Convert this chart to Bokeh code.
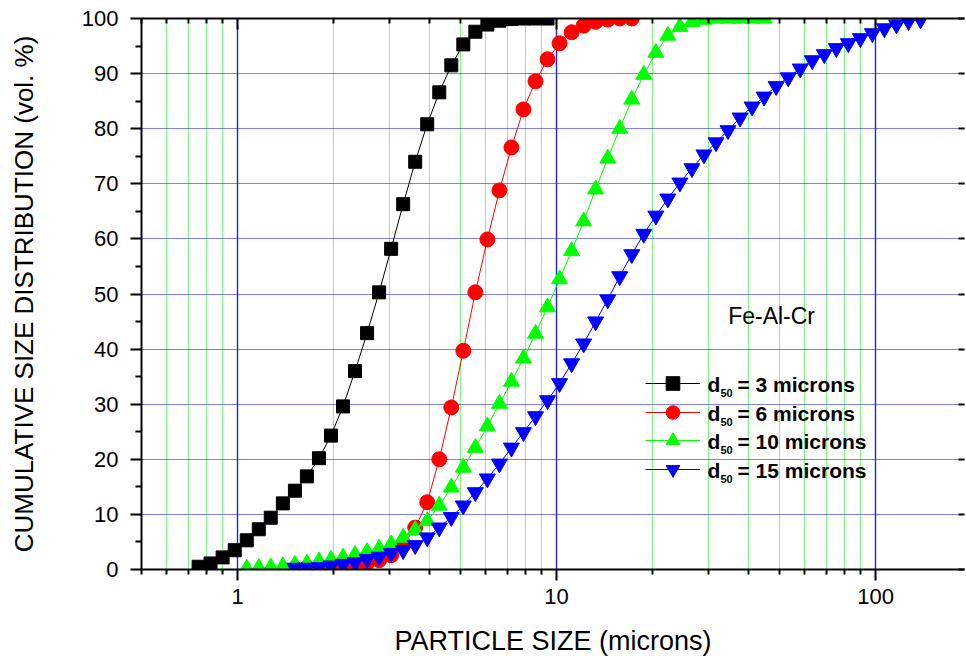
from bokeh.plotting import figure
from bokeh.models import (FixedTicker, LinearAxis, LogAxis, Legend, LegendItem,
                          Label, PrintfTickFormatter, Range1d)
from bokeh.embed import file_html
from bokeh.resources import INLINE

# ---------------- data ----------------
size_d3 = [0.755, 0.823, 0.898, 0.980, 1.069, 1.166, 1.271, 1.387, 1.513, 1.650,
           1.800, 1.963, 2.141, 2.335, 2.547, 2.778, 3.030, 3.305, 3.605, 3.932,
           4.289, 4.678, 5.102, 5.565, 6.070, 6.621, 7.221, 7.876, 8.591, 9.370]
cum_d3 = [0.5, 1.1, 2.2, 3.5, 5.3, 7.3, 9.4, 12.0, 14.3, 16.9,
          20.2, 24.3, 29.6, 36.0, 42.9, 50.3, 58.2, 66.3, 74.0, 80.8,
          86.6, 91.5, 95.3, 97.6, 98.9, 99.6, 99.9, 100, 100, 100]

size_d6 = [1.513, 1.650, 1.800, 1.963, 2.141, 2.335, 2.547, 2.778, 3.030, 3.305,
           3.605, 3.932, 4.289, 4.678, 5.102, 5.565, 6.070, 6.621, 7.221, 7.876,
           8.591, 9.370, 10.22, 11.15, 12.16, 13.26, 14.47, 15.78, 17.21]
cum_d6 = [0.2, 0.3, 0.4, 0.5, 0.7, 0.9, 1.2, 1.7, 2.6, 4.4,
          7.6, 12.2, 20.0, 29.4, 39.7, 50.3, 59.9, 68.8, 76.6, 83.5,
          88.6, 92.6, 95.5, 97.5, 98.7, 99.4, 99.8, 100, 100]

size_d10 = [1.069, 1.166, 1.271, 1.387, 1.513, 1.650, 1.800, 1.963, 2.141, 2.335,
            2.547, 2.778, 3.030, 3.305, 3.605, 3.932, 4.289, 4.678, 5.102, 5.565,
            6.070, 6.621, 7.221, 7.876, 8.591, 9.370, 10.22, 11.15, 12.16, 13.26,
            14.47, 15.78, 17.21, 18.77, 20.48, 22.33, 24.36, 26.57, 28.98, 31.61,
            34.48, 37.61, 41.02, 44.74]
cum_d10 = [0.2, 0.3, 0.4, 0.6, 0.9, 1.1, 1.5, 1.8, 2.2, 2.7,
           3.2, 3.8, 4.6, 5.8, 7.2, 8.8, 11.6, 14.9, 18.5, 22.1,
           26.0, 30.1, 34.1, 38.3, 42.8, 47.6, 52.7, 57.8, 63.2, 69.0,
           74.6, 80.0, 85.3, 89.8, 93.8, 96.9, 98.5, 99.4, 99.8, 100,
           100, 100, 100, 100]

size_d15 = [1.513, 1.650, 1.800, 1.963, 2.141, 2.335, 2.547, 2.778, 3.030, 3.305,
            3.605, 3.932, 4.289, 4.678, 5.102, 5.565, 6.070, 6.621, 7.221, 7.876,
            8.591, 9.370, 10.22, 11.15, 12.16, 13.26, 14.47, 15.78, 17.21, 18.77,
            20.48, 22.33, 24.36, 26.57, 28.98, 31.61, 34.48, 37.61, 41.02, 44.74,
            48.80, 53.23, 58.06, 63.32, 69.07, 75.34, 82.17, 89.63, 97.76, 106.6,
            116.3, 126.9, 138.4]
cum_d15 = [0.3, 0.3, 0.4, 0.7, 1.0, 1.3, 1.9, 2.3, 3.0, 3.5,
           4.4, 5.8, 7.6, 9.5, 11.6, 14.0, 16.5, 19.2, 22.1, 24.9,
           27.8, 30.7, 33.8, 37.4, 41.0, 45.0, 49.0, 53.2, 57.2, 60.9,
           64.2, 67.3, 70.2, 72.8, 75.3, 77.5, 79.7, 82.0, 84.0, 85.8,
           87.7, 89.3, 90.9, 92.4, 93.5, 94.6, 95.5, 96.4, 97.3, 98.2,
           98.9, 99.5, 99.8]

# legend texts: "d" + subscript "50" + rest
legend_main = ["d", "d", "d", "d"]
legend_sub = ["50", "50", "50", "50"]
legend_rest = ["= 3 microns", "= 6 microns", "= 10 microns", "= 15 microns"]

x_major = [1, 10, 100]
x_minor = [0.5, 0.6, 0.7, 0.8, 0.9, 2, 3, 4, 5, 6, 7, 8, 9,
           20, 30, 40, 50, 60, 70, 80, 90, 200]
y_major = [0, 10, 20, 30, 40, 50, 60, 70, 80, 90, 100]
y_minor = [5, 15, 25, 35, 45, 55, 65, 75, 85, 95]

FONT = "Liberation Sans"

# ---------------- figure ----------------
p = figure(width=966, height=659, x_axis_type="log",
           x_range=Range1d(0.5, 190), y_range=Range1d(0, 100),
           output_backend="svg", toolbar_location=None,
           min_border_left=141, min_border_top=18, min_border_bottom=90,
           min_border_right=2)
p.outline_line_color = None
p.background_fill_color = "white"

# bottom axis
xa = p.xaxis[0]
xa.ticker = FixedTicker(ticks=x_major, minor_ticks=x_minor)
xa.formatter = PrintfTickFormatter(format="%d")
xa.axis_label = "PARTICLE SIZE (microns)"
xa.axis_label_text_font = FONT
xa.axis_label_text_font_size = "27px"
xa.axis_label_text_font_style = "normal"
xa.axis_label_text_color = "black"
xa.axis_label_standoff = 19
xa.major_label_text_font = FONT
xa.major_label_text_font_size = "22px"
xa.major_label_text_color = "black"
xa.major_label_standoff = 8
xa.axis_line_width = 2
xa.major_tick_line_width = 2
xa.minor_tick_line_width = 2
xa.major_tick_out = 11
xa.major_tick_in = 0
xa.minor_tick_out = 5
xa.minor_tick_in = 0

# left axis
ya = p.yaxis[0]
ya.ticker = FixedTicker(ticks=y_major, minor_ticks=y_minor)
ya.axis_label = "CUMULATIVE SIZE DISTRIBUTION (vol. %)"
ya.axis_label_text_font = FONT
ya.axis_label_text_font_size = "26px"
ya.axis_label_text_font_style = "normal"
ya.axis_label_text_color = "black"
ya.axis_label_standoff = 40
ya.major_label_text_font = FONT
ya.major_label_text_font_size = "22px"
ya.major_label_text_color = "black"
ya.major_label_standoff = 12
ya.axis_line_width = 2
ya.major_tick_line_width = 2
ya.minor_tick_line_width = 2
ya.major_tick_out = 11
ya.major_tick_in = 0
ya.minor_tick_out = 6
ya.minor_tick_in = 0

# top axis (ticks inward, no labels)
top = LogAxis(ticker=FixedTicker(ticks=x_major, minor_ticks=x_minor),
              major_label_overrides={1: "", 10: "", 100: ""},
              major_label_text_font_size="1px", major_label_standoff=0,
              axis_line_width=2, major_tick_line_width=2, minor_tick_line_width=2,
              major_tick_in=11, major_tick_out=0, minor_tick_in=5, minor_tick_out=0)
p.add_layout(top, "above")

# right axis (ticks inward, no line, no labels)
right = LinearAxis(ticker=FixedTicker(ticks=y_major, minor_ticks=[]),
                   major_label_overrides={v: "" for v in y_major},
                   major_label_text_font_size="1px", major_label_standoff=0,
                   axis_line_color=None, major_tick_line_width=2,
                   major_tick_in=6, major_tick_out=0, minor_tick_in=0, minor_tick_out=0)
p.add_layout(right, "right")

# grids
p.xgrid.grid_line_color = "#2020ff"
p.xgrid.grid_line_width = 1.4
p.xgrid.minor_grid_line_color = "#00ee00"
p.xgrid.minor_grid_line_dash = "1 1"
p.xgrid.minor_grid_line_width = 1
p.ygrid.grid_line_color = "#0000ff"
p.ygrid.grid_line_dash = "1 1"
p.ygrid.grid_line_width = 1

# ---------------- series ----------------
specs = [
    (size_d3, cum_d3, "black", "square", 13),
    (size_d6, cum_d6, "#ff0000", "circle", 15),
    (size_d10, cum_d10, "#00ff00", "triangle", 16),
    (size_d15, cum_d15, "#0000ff", "inverted_triangle", 16),
]
# legend row centres (screen px from top of canvas) -> frame-relative positions
FRAME_LEFT, FRAME_BOTTOM = 141, 569
row_centres = [383, 412, 440, 469]

for i, (xs, ys, col, mk, sz) in enumerate(specs):
    lr = p.line(xs, ys, line_color=col, line_width=1)
    sr = p.scatter(xs, ys, marker=mk, size=sz, fill_color=col, line_color=col)
    cy = row_centres[i]
    leg = Legend(items=[LegendItem(label=" ", renderers=[lr, sr])],
                 location=(645 - FRAME_LEFT, FRAME_BOTTOM - (cy + 17)),
                 glyph_width=55, glyph_height=34, label_standoff=0,
                 label_width=0, padding=0, margin=0, spacing=0,
                 border_line_color=None, background_fill_alpha=0,
                 label_text_font=FONT, label_text_font_size="20px")
    p.add_layout(leg)
    p.add_layout(Label(x=707 - FRAME_LEFT, y=FRAME_BOTTOM - (cy + 1),
                       x_units="screen", y_units="screen",
                       text=legend_main[i], text_font=FONT, text_font_style="bold",
                       text_font_size="21px", text_baseline="middle",
                       text_color="black"))
    p.add_layout(Label(x=720 - FRAME_LEFT, y=FRAME_BOTTOM - (cy + 9),
                       x_units="screen", y_units="screen",
                       text=legend_sub[i], text_font=FONT, text_font_style="bold",
                       text_font_size="11px", text_baseline="middle",
                       text_color="black"))
    p.add_layout(Label(x=737 - FRAME_LEFT, y=FRAME_BOTTOM - (cy + 1),
                       x_units="screen", y_units="screen",
                       text=legend_rest[i], text_font=FONT, text_font_style="bold",
                       text_font_size="21px", text_baseline="middle",
                       text_color="black"))

p.add_layout(Label(x=34.5, y=46, text="Fe-Al-Cr", text_font=FONT,
                   text_font_size="23px", text_baseline="middle",
                   text_align="left", text_color="black"))

open("out.html", "w").write(file_html(p, INLINE))
